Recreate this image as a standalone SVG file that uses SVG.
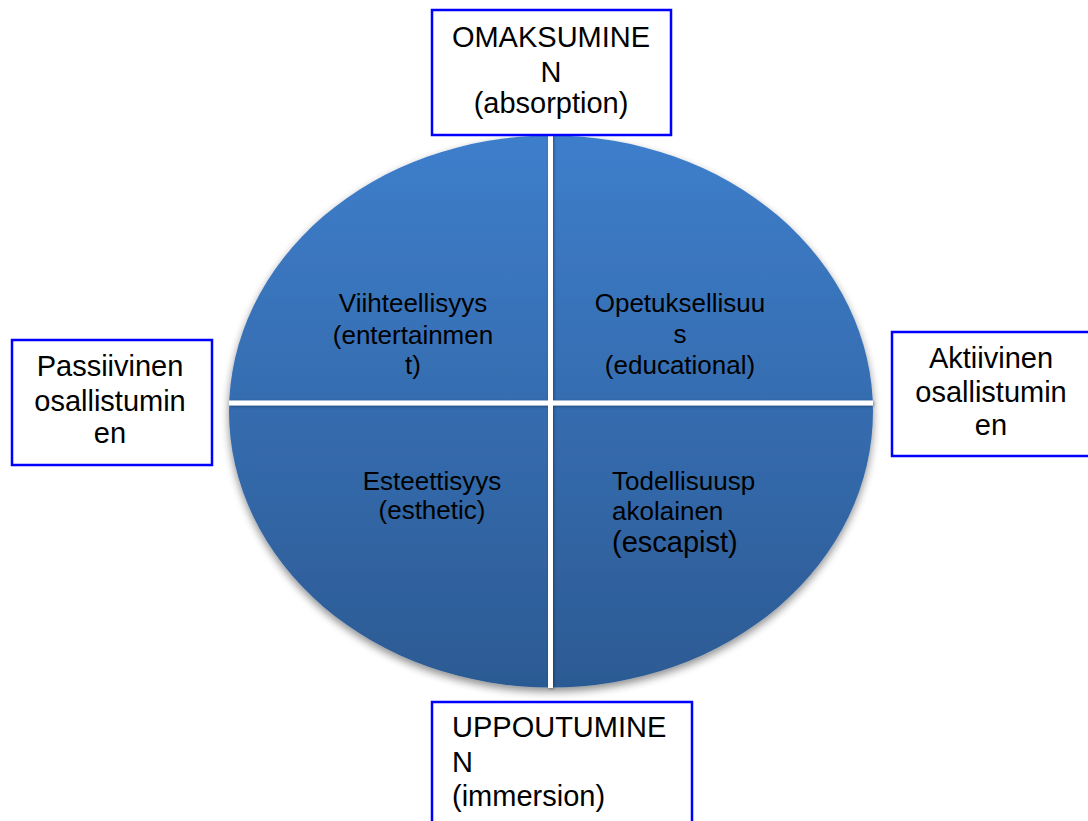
<svg xmlns="http://www.w3.org/2000/svg" width="1088" height="821" viewBox="0 0 1088 821">
  <defs>
    <linearGradient id="discFill" x1="0" y1="0" x2="0" y2="1">
      <stop offset="0" stop-color="#3e7ecb"/>
      <stop offset="1" stop-color="#2c5a93"/>
    </linearGradient>
    <filter id="softShadow" x="-10%" y="-10%" width="120%" height="125%">
      <feGaussianBlur in="SourceAlpha" stdDeviation="4"/>
      <feOffset dx="0" dy="4" result="blur"/>
      <feComponentTransfer><feFuncA type="linear" slope="0.45"/></feComponentTransfer>
      <feMerge><feMergeNode/><feMergeNode in="SourceGraphic"/></feMerge>
    </filter>
    <filter id="lineShadow" x="-50%" y="-5%" width="200%" height="110%">
      <feGaussianBlur in="SourceAlpha" stdDeviation="1.5"/>
      <feOffset dx="1" dy="1"/>
      <feComponentTransfer><feFuncA type="linear" slope="0.35"/></feComponentTransfer>
      <feMerge><feMergeNode/><feMergeNode in="SourceGraphic"/></feMerge>
    </filter>
  </defs>
  <style>
    .box { fill: #ffffff; stroke: #0000ff; stroke-width: 2.5; }
    .lbl { font-family: "Liberation Sans", Arial, sans-serif; font-size: 29px; fill: #000000; }
    .inner { font-family: "Liberation Sans", Arial, sans-serif; font-size: 26px; fill: #000000; }
    .big { font-size: 29px; }
    .mid { text-anchor: middle; }
    .divider { stroke: #ffffff; stroke-width: 5; }
  </style>

  <rect width="1088" height="821" fill="#ffffff"/>

  <!-- central disc with quadrant dividers -->
  <g id="disc">
    <ellipse cx="551" cy="411.5" rx="322" ry="276" fill="url(#discFill)" filter="url(#softShadow)"/>
    <g filter="url(#lineShadow)">
      <line class="divider" x1="550.5" y1="135" x2="550.5" y2="688"/>
      <line class="divider" x1="229" y1="403" x2="873" y2="403"/>
    </g>
  </g>

  <g id="quadrant-entertainment">
    <text class="inner mid" x="413" y="312">Viihteellisyys</text>
    <text class="inner mid" x="413" y="344">(entertainmen</text>
    <text class="inner mid" x="413" y="374">t)</text>
  </g>
  <g id="quadrant-educational">
    <text class="inner mid" x="680" y="312">Opetuksellisuu</text>
    <text class="inner mid" x="680" y="343">s</text>
    <text class="inner mid" x="680" y="374">(educational)</text>
  </g>
  <g id="quadrant-esthetic">
    <text class="inner mid" x="432" y="490">Esteettisyys</text>
    <text class="inner mid" x="432" y="519">(esthetic)</text>
  </g>
  <g id="quadrant-escapist">
    <text class="inner" x="612" y="490">Todellisuusp</text>
    <text class="inner" x="612" y="520">akolainen</text>
    <text class="inner big" x="612" y="552">(escapist)</text>
  </g>

  <!-- axis labels -->
  <g id="label-absorption">
    <rect class="box" x="432" y="10" width="239" height="125"/>
    <text class="lbl mid" x="551" y="47">OMAKSUMINE</text>
    <text class="lbl mid" x="551" y="82">N</text>
    <text class="lbl mid" x="551" y="113">(absorption)</text>
  </g>
  <g id="label-passive">
    <rect class="box" x="12" y="340" width="200" height="125"/>
    <text class="lbl mid" x="110" y="376">Passiivinen</text>
    <text class="lbl mid" x="110" y="411">osallistumin</text>
    <text class="lbl mid" x="110" y="443">en</text>
  </g>
  <g id="label-active">
    <rect class="box" x="892" y="332" width="210" height="124"/>
    <text class="lbl mid" x="991" y="368">Aktiivinen</text>
    <text class="lbl mid" x="991" y="402">osallistumin</text>
    <text class="lbl mid" x="991" y="435">en</text>
  </g>
  <g id="label-immersion">
    <rect class="box" x="432" y="702" width="260" height="130"/>
    <text class="lbl" x="452" y="737">UPPOUTUMINE</text>
    <text class="lbl" x="452" y="772">N</text>
    <text class="lbl" x="452" y="806">(immersion)</text>
  </g>

  <g id="connectors"/>
</svg>
